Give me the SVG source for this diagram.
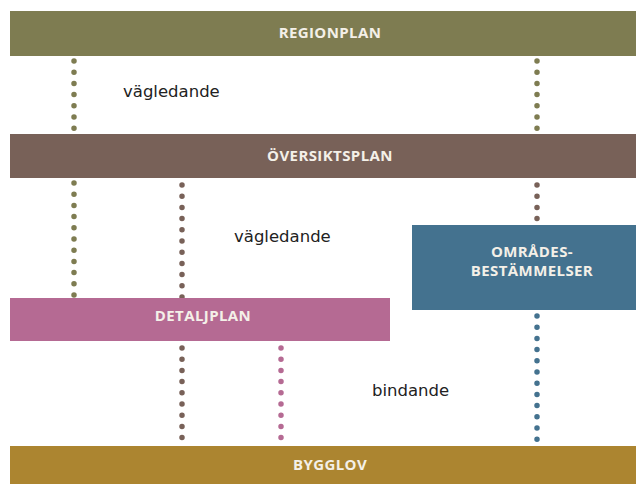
<svg xmlns="http://www.w3.org/2000/svg" width="636" height="484" viewBox="0 0 636 484">
<style>
.lbl{font-family:"Open Sans","DejaVu Sans",sans-serif;font-weight:700;font-size:15px;fill:#f4f0e8;text-anchor:middle;letter-spacing:0.4px}
.txt{font-family:"DejaVu Sans","Liberation Sans",sans-serif;font-size:16.5px;fill:#222}
.dot{fill:none;stroke-width:5.5;stroke-linecap:round;stroke-dasharray:0 11.2}
.ol{stroke:#7e7c51}.br{stroke:#786158}.pk{stroke:#b56a93}.bl{stroke:#44728f}
</style>
<rect width="636" height="484" fill="#fff"/>
<g id="connectors">
<line class="dot ol" x1="74" y1="61" x2="74" y2="134"/>
<line class="dot ol" x1="537" y1="61" x2="537" y2="134"/>
<line class="dot ol" x1="74" y1="183" x2="74" y2="298"/>
<line class="dot br" x1="182" y1="185" x2="182" y2="298"/>
<line class="dot br" x1="537" y1="185" x2="537" y2="225"/>
<line class="dot br" x1="182" y1="348" x2="182" y2="446"/>
<line class="dot pk" x1="281" y1="348" x2="281" y2="446"/>
<line class="dot bl" x1="537" y1="316" x2="537" y2="446"/>
</g>
<g id="regionplan">
<rect x="10" y="11" width="626" height="45" fill="#7e7c51"/>
<text class="lbl" x="330" y="38">REGIONPLAN</text>
</g>
<g id="oversiktsplan">
<rect x="10" y="134" width="626" height="44" fill="#786158"/>
<text class="lbl" x="330" y="161">ÖVERSIKTSPLAN</text>
</g>
<g id="omradesbestammelser">
<rect x="412" y="225" width="224" height="85" fill="#44728f"/>
<text class="lbl" x="532" y="257">OMRÅDES-</text>
<text class="lbl" x="532" y="276">BESTÄMMELSER</text>
</g>
<g id="detaljplan">
<rect x="10" y="298" width="380" height="43" fill="#b56a93"/>
<text class="lbl" x="203" y="321">DETALJPLAN</text>
</g>
<g id="bygglov">
<rect x="10" y="446" width="626" height="38" fill="#ac8530"/>
<text class="lbl" x="330" y="470">BYGGLOV</text>
</g>
<text class="txt" x="123" y="97">vägledande</text>
<text class="txt" x="234" y="242">vägledande</text>
<text class="txt" x="372" y="396">bindande</text>
</svg>
